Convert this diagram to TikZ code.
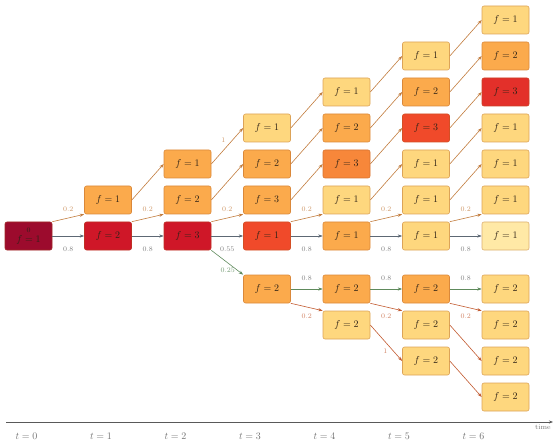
\documentclass[tikz,border=0pt]{standalone}
\usetikzlibrary{arrows.meta}
\definecolor{cMar}{HTML}{9C0B2D}
\definecolor{cRed}{HTML}{CF1728}
\definecolor{cRedOr}{HTML}{F04A2A}
\definecolor{cRedT}{HTML}{E3302A}
\definecolor{cOrD}{HTML}{F7873A}
\definecolor{cOr}{HTML}{FBAA4C}
\definecolor{cLi}{HTML}{FED77E}
\definecolor{cPa}{HTML}{FFE9A6}
\definecolor{cBord}{HTML}{A8561E}
\definecolor{cUp}{HTML}{C27C3E}
\definecolor{cMain}{HTML}{5D6874}
\definecolor{cGreen}{HTML}{5E8A5C}
\definecolor{cDown}{HTML}{C25A30}
\definecolor{cTxt}{HTML}{2E2216}
\tikzset{
  st/.style={draw=#1!60!cBord, fill=#1, rounded corners=2pt, minimum width=47pt,
    minimum height=28pt, inner sep=0pt, line width=0.6pt, text=cTxt},
  tip/.style={-{Stealth[length=4.5pt,width=3.2pt]}},
  upE/.style={draw=cUp, line width=0.6pt, tip},
  mainE/.style={draw=cMain, line width=0.6pt, tip},
  grE/.style={draw=cGreen, line width=0.6pt, tip},
  dnE/.style={draw=cDown, line width=0.6pt, tip},
  lab/.style={font=\scriptsize, inner sep=0pt},
  labO/.style={lab, text=cUp!80!white},
  labG/.style={lab, text=black!50},
  labGr/.style={lab, text=cGreen!85!white},
  labD/.style={lab, text=cDown!75!white},
  tlab/.style={text=black!55, inner sep=0pt}
}
\begin{document}
\begin{tikzpicture}[x=1pt,y=-1pt]
\useasboundingbox (0,0) rectangle (558,444);
% t = 0
\node[st=cMar, align=center, font=\linespread{0.8}\selectfont] (n0m) at (28.5,236) {\raisebox{0pt}{\scriptsize 0}\\$f=1$};
% t = 1
\node[st=cOr] (n1a1) at (108,200) {$f=1$};
\node[st=cRed] (n1m) at (108,236) {$f=2$};
% t = 2
\node[st=cOr] (n2a2) at (187.5,164) {$f=1$};
\node[st=cOr] (n2a1) at (187.5,200) {$f=2$};
\node[st=cRed] (n2m) at (187.5,236) {$f=3$};
% t = 3
\node[st=cLi] (n3a3) at (267,128) {$f=1$};
\node[st=cOr] (n3a2) at (267,164) {$f=2$};
\node[st=cOr] (n3a1) at (267,200) {$f=3$};
\node[st=cRedOr] (n3m) at (267,236) {$f=1$};
\node[st=cOr] (n3l1) at (267,289) {$f=2$};
% t = 4
\node[st=cLi] (n4a4) at (346.5,92) {$f=1$};
\node[st=cOr] (n4a3) at (346.5,128) {$f=2$};
\node[st=cOrD] (n4a2) at (346.5,164) {$f=3$};
\node[st=cLi] (n4a1) at (346.5,200) {$f=1$};
\node[st=cOr] (n4m) at (346.5,236) {$f=1$};
\node[st=cOr] (n4l1) at (346.5,289) {$f=2$};
\node[st=cLi] (n4l2) at (346.5,325) {$f=2$};
% t = 5
\node[st=cLi] (n5a5) at (426,56) {$f=1$};
\node[st=cOr] (n5a4) at (426,92) {$f=2$};
\node[st=cRedOr] (n5a3) at (426,128) {$f=3$};
\node[st=cLi] (n5a2) at (426,164) {$f=1$};
\node[st=cLi] (n5a1) at (426,200) {$f=1$};
\node[st=cLi] (n5m) at (426,236) {$f=1$};
\node[st=cOr] (n5l1) at (426,289) {$f=2$};
\node[st=cLi] (n5l2) at (426,325) {$f=2$};
\node[st=cLi] (n5l3) at (426,361) {$f=2$};
% t = 6
\node[st=cLi] (n6a6) at (505.5,20) {$f=1$};
\node[st=cOr] (n6a5) at (505.5,56) {$f=2$};
\node[st=cRedT] (n6a4) at (505.5,92) {$f=3$};
\node[st=cLi] (n6a3) at (505.5,128) {$f=1$};
\node[st=cLi] (n6a2) at (505.5,164) {$f=1$};
\node[st=cLi] (n6a1) at (505.5,200) {$f=1$};
\node[st=cPa] (n6m) at (505.5,236) {$f=1$};
\node[st=cLi] (n6l1) at (505.5,289) {$f=2$};
\node[st=cLi] (n6l2) at (505.5,325) {$f=2$};
\node[st=cLi] (n6l3) at (505.5,361) {$f=2$};
\node[st=cLi] (n6l4) at (505.5,397) {$f=2$};

% main row up-branches (0.2) and horizontals (0.8)
\foreach \a/\b/\p in {0/1/0.8, 1/2/0.8, 2/3/0.55, 3/4/0.8, 4/5/0.8, 5/6/0.8}{
  \draw[upE] (n\a m.north east) -- (n\b a1.south west)
     node[labO, midway, yshift=9pt] {0.2};
  \draw[mainE] (n\a m.east) -- (n\b m.west)
     node[labG, midway, yshift=-13pt] {\p};
}
% upper diagonals
\draw[upE] (n1a1.east) -- (n2a2.west);
\draw[upE] (n2a1.east) -- (n3a2.west);
\draw[upE] (n2a2.east) -- (n3a3.west) node[labO, pos=0.5, xshift=-4pt, yshift=6pt] {1};
\foreach \s/\t in {3a1/4a2, 3a2/4a3, 3a3/4a4,
                   4a1/5a2, 4a2/5a3, 4a3/5a4, 4a4/5a5,
                   5a1/6a2, 5a2/6a3, 5a3/6a4, 5a4/6a5, 5a5/6a6}{
  \draw[upE] (n\s.east) -- (n\t.west);
}
% lower branch
\draw[grE] (n2m.south east) -- (n3l1.north west)
   node[labGr, pos=0.55, xshift=-1pt, yshift=-7pt] {0.25};
\foreach \a/\b in {3/4, 4/5, 5/6}{
  \draw[grE] (n\a l1.east) -- (n\b l1.west) node[labG, midway, yshift=11pt] {0.8};
  \draw[dnE] (n\a l1.south east) -- (n\b l2.north west) node[labD, midway, yshift=-9pt] {0.2};
}
\draw[dnE] (n4l2.east) -- (n5l3.west) node[labD, pos=0.5, xshift=-1pt, yshift=-8pt] {1};
\draw[dnE] (n5l2.east) -- (n6l3.west);
\draw[dnE] (n5l3.east) -- (n6l4.west);

% time axis
\coordinate (ax0) at (6,422);
\coordinate (ax1) at (553,422);
\draw[draw=black!65, line width=0.6pt, -{Stealth[length=4pt,width=3pt]}] (ax0) -- (ax1);
\node[font=\scriptsize, text=black!55, inner sep=0pt] (tim) at (543,427.5) {time};
\foreach \i in {0,...,6}{
  \node[tlab] (tl\i) at (26.5+74.5*\i,436) {$t=\i$};
}
\end{tikzpicture}
\end{document}
